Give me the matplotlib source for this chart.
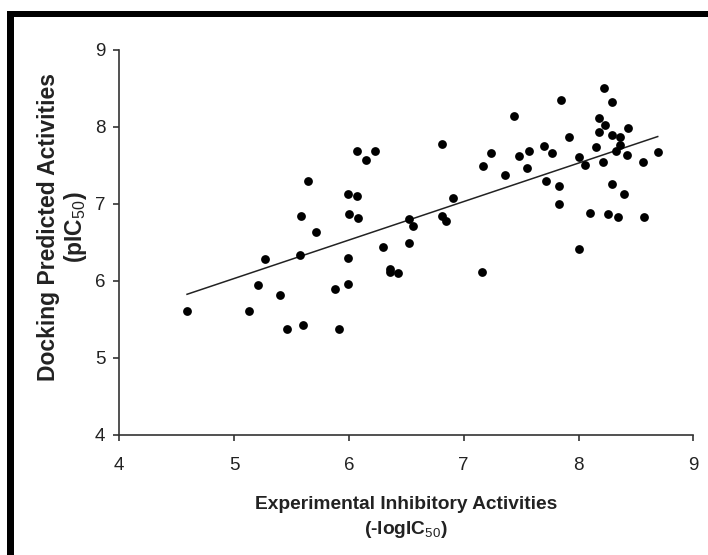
import matplotlib
matplotlib.use("Agg")
import matplotlib.pyplot as plt
from matplotlib.patches import Rectangle
import numpy as np

plt.rcParams['font.family'] = ['Liberation Sans', 'DejaVu Sans']
plt.rcParams['mathtext.fontset'] = 'custom'
plt.rcParams['mathtext.rm'] = 'Liberation Sans'
plt.rcParams['mathtext.bf'] = 'Liberation Sans:bold'

experimental = [4.59, 5.13, 5.21, 5.27, 5.40, 5.46, 5.60, 5.57, 5.58, 5.64,
                5.71, 5.88, 5.91, 5.99, 5.99, 5.99, 6.00, 6.07, 6.08, 6.07,
                6.15, 6.23, 6.30, 6.36, 6.36, 6.43, 6.52, 6.52, 6.56, 6.81,
                6.81, 6.85, 6.91, 7.16, 7.17, 7.24, 7.36, 7.44, 7.48, 7.57,
                7.55, 7.70, 7.77, 7.72, 7.83, 7.83, 7.85, 7.92, 8.00, 8.06,
                8.00, 8.10, 8.15, 8.18, 8.18, 8.22, 8.23, 8.21, 8.29, 8.29,
                8.29, 8.26, 8.36, 8.36, 8.33, 8.34, 8.43, 8.42, 8.40, 8.56,
                8.57, 8.69]
predicted = [5.61, 5.61, 5.95, 6.29, 5.81, 5.38, 5.42, 6.33, 6.84, 7.30,
             6.63, 5.89, 5.37, 6.30, 5.96, 7.13, 6.87, 7.10, 6.81, 7.69,
             7.57, 7.69, 6.44, 6.15, 6.11, 6.10, 6.80, 6.49, 6.71, 7.78,
             6.84, 6.78, 7.08, 6.11, 7.49, 7.66, 7.37, 8.14, 7.62, 7.69,
             7.46, 7.75, 7.66, 7.30, 7.23, 7.00, 8.35, 7.87, 7.61, 7.50,
             6.42, 6.88, 7.74, 8.12, 7.93, 8.50, 8.03, 7.55, 8.32, 7.89,
             7.26, 6.87, 7.87, 7.76, 7.69, 6.83, 7.99, 7.64, 7.13, 7.54,
             6.83, 7.67]
fit_slope = 0.50
fit_intercept = 3.53

x_ticks = [4, 5, 6, 7, 8, 9]
y_ticks = [4, 5, 6, 7, 8, 9]

W, H = 708, 555
fig = plt.figure(figsize=(W / 100, H / 100), dpi=100)
fig.patch.set_facecolor('white')

# black frame (top and left edges)
fig.add_artist(Rectangle((7 / W, (H - 17) / H), 1 - 7 / W, 6 / H,
                         transform=fig.transFigure, color='black', lw=0))
fig.add_artist(Rectangle((7 / W, 0), 7 / W, (H - 11) / H,
                         transform=fig.transFigure, color='black', lw=0))

ax = fig.add_axes([119.3 / W, (H - 434.7) / H, (693.3 - 119.3) / W, (434.7 - 50) / H])
ax.set_facecolor('none')

ax.scatter(experimental, predicted, s=40, color='black', zorder=3, linewidths=0)
xs = np.array([min(experimental), max(experimental)])
ax.plot(xs, fit_slope * xs + fit_intercept, color='#222222', lw=1.1, zorder=2)

ax.set_xlim(4, 9)
ax.set_ylim(4, 9)
ax.set_xticks(x_ticks)
ax.set_yticks(y_ticks)
ax.set_xticklabels([str(t) for t in x_ticks])
ax.set_yticklabels([str(t) for t in y_ticks])

for s in ['top', 'right']:
    ax.spines[s].set_visible(False)
for s in ['left', 'bottom']:
    ax.spines[s].set_color('#333333')
    ax.spines[s].set_linewidth(1.2)
ax.tick_params(axis='both', direction='out', length=4, width=1.2, color='#333333',
               labelsize=13.5, labelcolor='#222222')
ax.tick_params(axis='x', pad=12)
ax.tick_params(axis='y', pad=6)

ax.set_xlabel('Experimental Inhibitory Activities\n(-logIC$_{\\mathrm{50}}$)',
              fontsize=13.8, fontweight='bold', color='#222222', linespacing=1.4)
ax.xaxis.set_label_coords(0.5, -0.16)
ax.set_ylabel('Docking Predicted Activities\n(pIC$_{\\mathrm{50}}$)',
              fontsize=16.5, fontweight='bold', color='#222222', linespacing=1.12)
ax.yaxis.set_label_coords(-0.0525, 0.539)

fig.savefig('out.png', dpi=100)
